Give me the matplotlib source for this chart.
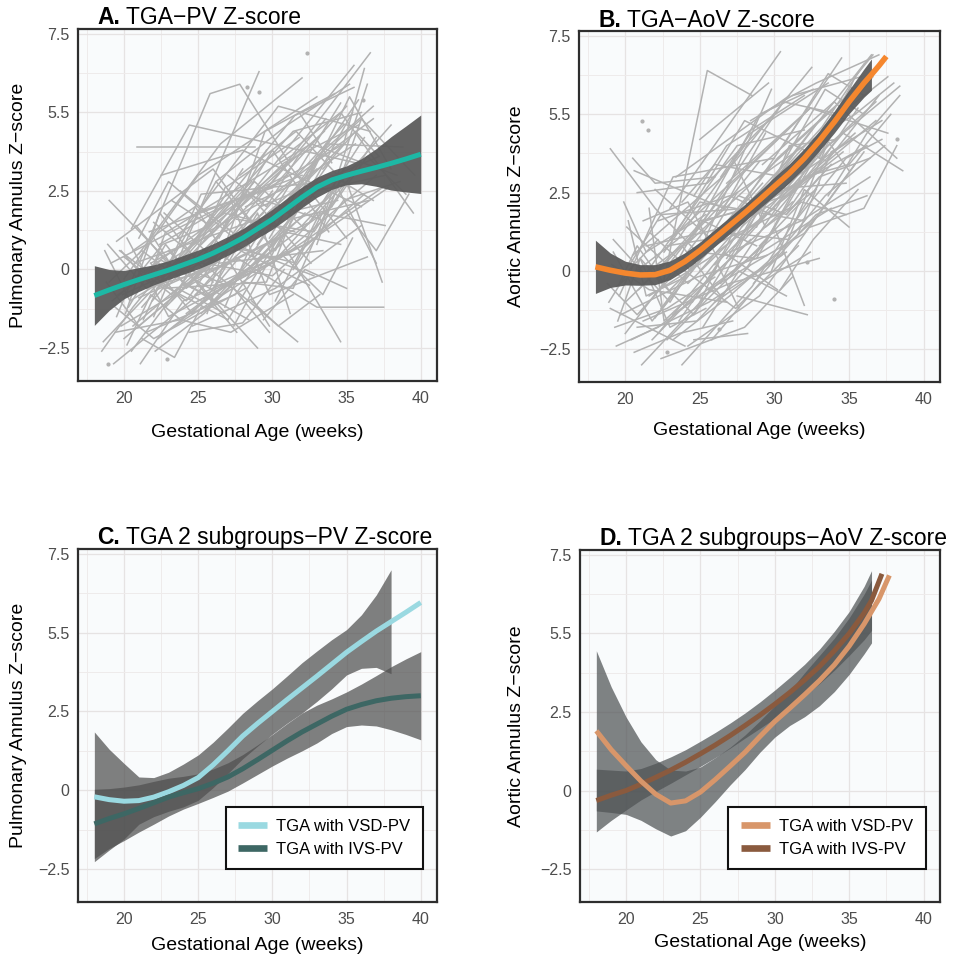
import numpy as np
import matplotlib.pyplot as plt

plt.rcParams['font.family'] = ['Liberation Sans', 'DejaVu Sans']

# ---- individual fetal trajectories: pulmonary valve (PV) ----
pv_tracks_ga = [
    [19.3, 24.5, 29.0], [18.6, 22.0, 27.0], [19.5, 25.8, 27.8, 31.0], [20.9, 28.8],
    [22.0, 29.1], [21.0, 26.5, 32.0], [23.0, 30.0, 36.6], [20.5, 27.0, 35.5],
    [24.0, 30.5, 34.6], [27.5, 33.0, 37.5], [22.0, 31.7], [23.0, 29.0],
    [21.1, 24.0, 30.0], [30.5, 34.6, 39.5], [19.0, 23.5, 28.0], [20.0, 25.0, 33.0],
    [22.5, 28.0, 36.0], [24.5, 31.5, 35.5], [19.8, 25.5, 30.0], [21.5, 27.5, 34.0],
    [20.2, 23.0, 31.0], [19.6, 26.0, 33.5], [21.8, 29.5, 36.8], [22.8, 27.0, 32.5],
    [20.6, 24.8, 29.8], [23.5, 28.5, 34.8], [19.2, 22.5, 26.5], [24.8, 30.0, 35.0],
    [25.5, 31.0, 37.0], [20.4, 26.8, 31.5], [21.3, 25.2, 33.8], [18.9, 21.5, 27.2],
    [22.2, 30.8, 35.8], [23.8, 27.8, 33.0], [26.0, 32.5, 36.2], [20.0, 28.0],
    [21.7, 32.0], [24.2, 34.0], [19.4, 23.8, 30.6], [22.6, 26.2, 30.2, 35.4],
    [27.0, 31.2, 36.5], [28.5, 33.5, 38.0], [20.8, 24.0, 28.4], [23.2, 29.2, 37.2],
    [25.8, 29.5, 34.2], [19.9, 27.4, 32.8], [21.2, 26.0, 31.0, 35.0], [22.4, 28.2, 33.2],
    [24.6, 30.2, 36.0], [26.5, 32.2, 37.8], [20.3, 22.8, 27.6], [18.8, 21.0, 25.0],
    [23.6, 26.8, 31.8], [29.0, 33.0, 36.8], [21.6, 25.6, 29.6], [20.7, 29.0, 34.4],
    [25.2, 28.8, 32.2], [22.9, 32.6, 38.4], [27.8, 31.6, 35.2], [19.7, 24.2, 28.6, 33.6],
    [19.1, 24.0, 31.0], [20.1, 22.4, 26.0], [21.4, 27.0], [19.5, 26.0, 28.6],
    [22.1, 25.4, 30.4], [20.5, 24.4, 35.6], [23.4, 30.6, 37.4], [24.4, 28.0, 30.8],
    [26.4, 30.0, 33.8], [28.0, 31.4, 34.2], [30.0, 35.0, 37.4], [25.0, 33.0, 36.4],
    [18.7, 20.4, 25.6], [21.0, 23.0, 27.4], [22.7, 26.4, 33.4], [27.2, 29.8, 36.4],
    [29.4, 32.2, 35.0], [31.0, 33.6, 38.8], [32.4, 35.2, 38.0], [33.0, 36.0, 39.6],
    [20.2, 21.8, 23.8], [21.9, 28.8, 32.4], [26.8, 28.4, 34.6], [25.4, 30.0, 36.2],
    [23.0, 31.4, 36.0], [19.0, 21.2, 24.6], [20.0, 23.2, 29.4], [21.0, 26.2, 34.8],
    [22.3, 27.6, 35.8], [23.6, 30.4, 36.6], [24.8, 32.0, 37.6], [26.2, 31.0, 35.2],
    [27.6, 32.8, 37.0], [28.8, 34.0, 36.8], [30.2, 33.2, 37.6], [31.4, 34.8, 38.6],
    [19.4, 22.0, 28.2], [20.6, 23.6, 26.8], [21.8, 24.6, 27.8], [22.6, 29.6, 33.0],
    [23.8, 27.2, 31.4], [25.0, 28.4, 32.6], [26.0, 29.0, 31.2], [27.4, 30.8, 34.6],
    [28.2, 31.8, 35.6], [29.8, 32.8, 36.0], [30.8, 33.4, 35.4], [32.0, 34.4, 37.0],
    [18.5, 20.6, 23.4], [19.8, 21.6, 22.8], [20.9, 22.6, 25.8], [22.0, 24.2, 26.6],
    [24.0, 26.0, 29.2], [25.6, 27.0, 30.6], [26.6, 31.6, 33.6], [33.4, 35.6, 37.2],
    [34.0, 36.4, 39.0], [29.0, 34.8, 36.2], [31.8, 34.0], [21.2, 23.4, 25.2],
    [23.2, 25.8, 28.6], [27.0, 29.6, 32.0], [28.6, 30.4, 33.2], [24.4, 27.4, 29.8],
    [35.0, 37.0, 39.2],
]
pv_tracks_z = [
    [-3.0, -1.0, 1.5], [-2.3, -0.6, 2.0], [-1.5, 5.6, 5.9, 3.5], [3.9, 3.9],
    [-1.5, 6.3], [0.5, 4.0, 6.1], [-0.5, 2.8, 6.9], [-2.6, 1.5, 6.5],
    [-0.5, 1.0, -2.3], [0.4, -1.2, -1.2], [1.5, -2.3], [0.6, -2.5],
    [-3.0, -1.0, 0.2], [3.5, 5.0, 1.8], [2.2, 0.0, 3.2], [-0.3, 3.0, 5.5],
    [3.0, 3.8, 2.0], [0.8, 4.9, 5.8], [-1.8, -0.2, 2.5], [-2.0, -0.8, 3.5],
    [1.0, -1.5, 0.5], [-0.8, 1.2, 4.4], [0.2, 2.2, 4.8], [-1.2, 0.8, -0.5],
    [0.6, 2.0, -1.8], [-0.2, 1.0, 4.0], [-1.0, 0.3, -0.8], [1.8, 2.6, 5.2],
    [-0.8, 0.6, 3.0], [-0.4, 1.8, 1.2], [-1.6, 2.4, 2.8], [0.8, -0.6, 0.2],
    [-0.6, 3.4, 4.6], [2.5, 1.0, 3.2], [0.0, 1.5, 4.2], [-2.2, 1.0],
    [1.2, 3.0], [-1.4, 2.0], [-2.0, -1.6, 0.8], [-0.2, 2.8, 0.6, 5.0],
    [-1.6, 1.6, 2.2], [0.4, 2.2, 4.6], [1.4, -0.4, -1.6], [-1.0, 2.0, 3.6],
    [-0.6, 4.4, 5.6], [-0.8, 0.8, -0.2], [-1.2, 1.4, 3.4, 1.0], [0.8, 2.4, 1.6],
    [-1.8, -0.6, 1.4], [-0.4, 0.8, 2.6], [-1.2, 0.8, -2.0], [-0.4, -1.8, -0.2],
    [-0.8, 2.6, 4.2], [0.8, 3.6, 5.2], [-0.6, 0.4, 3.8], [0.2, 1.6, 2.2],
    [-1.4, 0.2, 1.8], [1.2, 4.0, 3.0], [3.0, 4.4, 2.6], [0.6, -1.0, 2.0, 4.8],
    [0.2, 1.4, 3.0], [-1.4, 1.8, -0.4], [-0.2, -1.6], [0.9, 3.2, 1.5],
    [-2.6, -1.4, 1.0], [1.3, 4.6, 3.4], [-1.8, 0.4, 2.6], [-2.0, -1.7, 0.0],
    [1.0, 3.8, 1.2], [-0.4, -0.6, 2.4], [0.2, 2.8, -0.4], [-1.0, 1.0, 5.9],
    [0.6, -1.0, 0.5], [1.0, 2.8, 1.0], [1.8, 0.2, 0.6], [2.2, -0.8, 0.4],
    [-1.6, 0.0, -0.6], [1.6, 4.0, 3.9], [2.8, 5.5, 3.2], [0.8, 4.8, 3.0],
    [-2.4, -0.8, -1.6], [-1.0, 2.8, 1.2], [-1.2, 0.6, 5.3], [0.2, -0.2, 2.4],
    [0.0, 4.4, 5.0], [-0.4, 0.6, -0.6], [0.4, -0.8, 1.8], [-0.9, 0.2, 4.6],
    [-2.2, -0.2, 5.4], [1.0, 5.2, 4.4], [-0.8, 2.4, 3.0], [2.8, 4.6, 5.9],
    [1.6, 1.2, 4.2], [0.4, 3.0, 2.2], [-1.0, 1.8, 1.4], [0.0, 2.2, 2.8],
    [-1.2, -2.2, -0.6], [-1.8, -0.6, -1.4], [0.2, -1.4, 0.4], [-0.6, -0.4, 3.6],
    [-1.6, -2.0, -0.8], [1.2, 2.4, 0.2], [-0.6, 1.8, -1.4], [-1.8, 1.2, 0.8],
    [2.0, 2.8, 4.0], [1.0, 3.4, 4.8], [0.4, -0.8, 1.0], [1.4, 2.6, 0.2],
    [-2.6, -1.2, 0.4], [0.6, -0.4, 1.2], [-0.2, 0.8, 1.4], [1.0, -0.6, 0.6],
    [-0.4, -1.0, 0.6], [-1.4, 0.6, 2.2], [0.8, 0.2, 2.0], [3.2, 4.4, 3.6],
    [2.0, 3.6, 2.4], [2.4, 4.0, 6.4], [5.0, 3.4], [-2.2, -2.8, -1.2],
    [2.2, 1.4, 2.8], [3.0, 2.0, 3.8], [-1.0, -1.8, -0.8], [0.0, -0.6, -2.0],
    [1.8, 0.6, 2.4],
]
pv_single_ga = [22.9, 18.9, 32.3, 28.3, 29.1, 36.1]
pv_single_z = [-2.85, -3.0, 6.9, 5.8, 5.66, 5.4]

# ---- individual fetal trajectories: aortic valve (AoV) ----
aov_tracks_ga = [
    [19.0, 22.0, 25.0], [22.5, 25.5, 28.5], [23.0, 30.4], [19.4, 23.5, 28.0],
    [21.1, 26.0, 31.0], [23.8, 28.5, 33.0], [20.0, 24.0, 29.0], [20.5, 26.5, 32.5],
    [22.0, 27.0, 34.5], [24.5, 30.0, 36.5], [19.2, 23.0, 27.5], [21.5, 27.5, 32.0],
    [22.8, 29.5, 35.0], [25.0, 31.5, 37.0], [20.8, 25.5, 30.0], [23.4, 28.0, 33.5],
    [19.7, 24.8, 29.5], [21.8, 26.2, 31.2], [24.2, 29.0, 35.4], [26.0, 30.5, 34.0],
    [27.5, 32.2], [28.0, 33.6, 38.4], [20.3, 22.4, 28.2], [22.6, 25.0, 32.0],
    [19.1, 21.6, 26.8], [21.2, 27.0, 33.0], [23.0, 28.6, 36.2], [25.4, 30.8, 36.8],
    [26.8, 32.4, 37.6], [29.2, 34.0, 38.2], [20.6, 23.6, 27.2], [22.2, 26.6, 30.2],
    [24.0, 27.4, 31.6], [19.6, 23.2, 30.0], [21.7, 24.4, 29.8], [23.6, 29.0, 32.6],
    [25.8, 31.0, 35.6], [27.0, 31.8, 36.4], [28.4, 33.0, 37.0], [30.0, 34.6, 38.6],
    [19.3, 22.8, 26.0], [20.9, 25.2, 28.8], [22.4, 28.0, 31.2], [24.6, 28.2],
    [26.4, 29.6, 34.8], [21.4, 26.8, 31.4], [23.2, 27.8, 33.8], [25.6, 32.0, 36.0],
    [20.1, 24.2, 27.6], [22.0, 25.8, 29.2], [27.8, 31.4, 35.2], [29.6, 33.4, 37.4],
    [31.0, 34.2, 36.6], [18.8, 20.8, 24.6], [19.9, 21.4, 25.4], [21.0, 23.8, 26.4],
    [23.8, 26.0, 30.6], [24.8, 28.8, 33.2], [26.2, 30.2, 35.8], [28.6, 32.8, 36.2],
    [20.4, 25.6, 30.8], [22.9, 27.2, 32.4], [24.4, 30.6, 34.4], [27.2, 29.4, 32.8],
    [30.4, 32.6, 35.6], [32.0, 35.0, 37.8], [19.0, 24.0], [21.6, 22.6, 28.4],
    [25.2, 27.6, 30.8], [29.0, 31.8, 34.8], [33.0, 35.4, 36.6], [20.6, 26.6, 29.4],
    [23.4, 31.0], [26.6, 33.2, 35.0], [31.6, 33.8, 37.2], [22.2, 27.0, 29.8],
    [28.0, 30.0, 32.0], [25.0, 29.6], [30.6, 33.6, 36.0], [19.5, 21.0, 22.5],
    [19.2, 21.8, 25.8], [20.0, 22.6, 26.6], [20.8, 24.8, 28.4], [21.6, 25.6, 30.0],
    [22.4, 26.4, 31.8], [23.2, 27.0, 32.6], [24.0, 29.4, 34.0], [25.0, 28.6, 33.0],
    [26.0, 31.2, 35.4], [27.0, 30.4, 34.6], [28.2, 32.2, 36.8], [29.4, 33.2, 36.0],
    [30.6, 34.4, 37.6], [31.4, 34.8, 37.2], [32.6, 35.4, 38.0], [33.6, 36.2, 38.4],
    [19.6, 20.8, 23.2], [20.2, 21.4, 24.0], [21.0, 23.0, 25.4], [22.0, 24.6, 27.8],
    [22.8, 25.4, 29.0], [23.6, 26.2, 27.6], [24.8, 27.2, 31.0], [25.8, 29.0, 32.4],
    [26.8, 28.8, 31.6], [27.6, 30.8, 33.8], [28.8, 31.0, 34.2], [29.8, 32.0, 35.0],
    [30.8, 33.0, 36.4], [18.9, 20.2, 22.2], [19.4, 22.2, 24.4], [21.2, 24.2, 26.2],
    [23.0, 24.8, 30.2], [24.6, 26.8, 32.0], [26.4, 28.4, 33.6], [28.4, 31.2, 35.8],
    [31.2, 32.8, 37.0], [27.4, 33.4, 36.0], [32.4, 36.0, 38.2], [20.5, 22.0, 26.0],
]
aov_tracks_z = [
    [3.9, 2.0, 0.5], [-0.5, 6.4, 5.6], [2.0, 7.0], [-0.5, 1.0, 4.0],
    [-3.0, -0.5, 1.5], [-3.0, -0.5, 2.8], [-2.0, 0.5, 3.5], [0.5, 3.0, 6.5],
    [-1.5, 1.5, 6.8], [-1.0, 3.0, 6.9], [1.0, -1.0, 2.5], [0.0, 4.0, 4.5],
    [-2.2, 1.0, 5.8], [0.0, 3.5, 6.6], [2.5, 2.8, 5.0], [1.2, 4.8, 3.5],
    [-1.4, -0.2, 0.5], [-2.2, 0.0, 2.2], [-2.4, -0.8, 3.4], [-1.0, 0.5, 4.6],
    [-0.8, -1.4], [1.0, 4.0, 5.9], [0.2, 1.8, 2.0], [0.6, 2.2, 1.6],
    [0.2, -0.6, -1.0], [-1.6, -0.4, 0.4], [-0.6, 2.0, 4.0], [1.6, 2.4, 4.8],
    [2.8, 5.2, 4.4], [3.4, 5.4, 3.6], [-2.6, -2.0, -1.6], [-2.0, 0.6, -0.6],
    [0.0, -1.2, 0.8], [-0.8, 3.0, 3.6], [1.2, 0.0, 5.8], [0.4, 5.0, 5.8],
    [0.8, 2.0, 5.2], [0.6, 1.6, 3.0], [2.0, 3.2, 5.6], [1.8, 4.4, 3.2],
    [-1.8, -1.2, -0.2], [-0.6, 1.6, 0.8], [-2.8, -1.8, -0.2], [-2.2, -2.0],
    [-0.4, 2.6, 2.8], [0.8, 1.4, 3.8], [-1.4, 0.2, 2.0], [-0.6, 1.2, 3.8],
    [1.4, -0.4, 1.2], [2.6, 1.0, 2.8], [1.4, 3.0, 4.2], [0.2, 2.4, 4.0],
    [2.4, 4.8, 6.2], [-0.4, -1.4, 0.6], [2.2, 0.6, 1.8], [-0.2, 0.8, -0.8],
    [2.2, 3.4, 3.0], [0.6, 0.4, 4.0], [1.2, 3.6, 6.0], [-0.4, 1.8, 2.4],
    [-2.2, -1.0, 0.6], [0.2, 2.8, 5.2], [1.0, 5.4, 5.0], [3.6, 1.4, 2.6],
    [-0.6, 1.0, 2.6], [3.0, 3.4, 5.0], [-1.2, -2.4], [2.0, -1.6, 1.0],
    [-1.8, 0.0, -0.8], [0.8, 2.2, 1.8], [3.6, 6.2, 6.9], [3.2, 2.0, 4.4],
    [3.0, 5.6], [2.2, 4.4, 3.2], [1.2, 3.8, 4.8], [1.6, 2.4, 1.8],
    [0.0, 1.4, -1.1], [4.2, 6.0], [4.0, 6.3, 5.6], [-1.6, 0.4, -0.4],
    [0.6, -1.6, 0.8], [-1.0, 0.2, 2.2], [-1.8, -1.6, 0.2], [-0.8, 0.4, 2.0],
    [-1.2, 1.4, 3.4], [-2.2, -0.8, 1.6], [0.8, 3.2, 5.2], [1.6, 2.0, 4.8],
    [0.2, 2.6, 4.4], [-0.2, 2.2, 3.8], [1.2, 3.4, 5.4], [2.6, 4.6, 6.6],
    [3.0, 5.0, 6.2], [1.6, 3.6, 4.2], [4.2, 5.0, 6.0], [2.4, 4.4, 5.6],
    [-0.4, 0.8, -0.8], [1.6, -0.8, -0.2], [0.4, -1.8, -1.2], [-0.2, -1.4, 1.0],
    [0.8, 1.0, 2.4], [-1.6, 0.2, -1.2], [-1.2, 1.2, 1.0], [-2.2, -0.4, 0.6],
    [0.4, 1.8, 2.8], [2.4, 1.8, 3.4], [1.4, 4.0, 4.2], [0.0, 2.6, 1.4],
    [1.8, 3.0, 3.6], [-1.0, 0.0, 1.0], [-2.4, -1.8, -1.0], [1.6, 2.2, 0.4],
    [1.0, 1.8, 4.2], [2.4, 4.0, 5.6], [3.0, 4.4, 6.0], [4.8, 5.6, 6.2],
    [5.6, 6.0, 6.9], [0.8, 5.8, 5.0], [1.4, 2.0, 4.0], [3.6, 2.8, 3.0],
]
aov_single_ga = [21.1, 21.5, 34.0, 38.2, 22.8, 26.3, 32.2]
aov_single_z = [4.8, 4.5, -0.9, 4.2, -2.6, -1.85, 0.3]

# ---- loess fits, all TGA ----
pv_fit_ga = list(range(18, 41))
pv_fit = [-0.83, -0.65, -0.48, -0.32, -0.17, -0.02, 0.15, 0.32, 0.52, 0.75, 1.0, 1.3,
          1.6, 1.95, 2.3, 2.62, 2.85, 3.0, 3.13, 3.25, 3.38, 3.52, 3.67]
pv_half = [0.95, 0.65, 0.45, 0.38, 0.32, 0.3, 0.3, 0.3, 0.3, 0.3, 0.3, 0.3,
           0.32, 0.33, 0.33, 0.32, 0.3, 0.3, 0.4, 0.6, 0.85, 1.05, 1.25]

aov_fit_ga = list(range(18, 37)) + [36.5, 37, 37.5]
aov_fit = [0.13, 0.02, -0.07, -0.13, -0.12, 0.02, 0.3, 0.65, 1.05, 1.45, 1.85, 2.27,
           2.7, 3.12, 3.6, 4.15, 4.75, 5.4, 6.0, 6.27, 6.55, 6.85]
aov_half = [0.85, 0.55, 0.38, 0.33, 0.32, 0.3, 0.28, 0.27, 0.27, 0.27, 0.27, 0.28,
            0.3, 0.3, 0.31, 0.32, 0.35, 0.38, 0.45, 0.5]

# ---- loess fits, two subgroups ----
sub_pv_ga = list(range(18, 41))
pv_vsd_fit = [-0.21, -0.3, -0.35, -0.33, -0.22, -0.05, 0.15, 0.4, 0.8, 1.25, 1.72, 2.12,
              2.5, 2.88, 3.25, 3.62, 4.0, 4.38, 4.72, 5.05, 5.35, 5.65, 5.96]
pv_vsd_half = [2.06, 1.6, 1.2, 0.75, 0.62, 0.62, 0.68, 0.72, 0.72, 0.72, 0.72, 0.72,
               0.72, 0.75, 0.8, 0.8, 0.78, 0.72, 0.85, 1.15, 1.65]
pv_ivs_fit = [-1.07, -0.9, -0.75, -0.58, -0.4, -0.22, -0.08, 0.05, 0.22, 0.42, 0.68, 0.97,
              1.27, 1.57, 1.85, 2.1, 2.35, 2.57, 2.72, 2.84, 2.92, 2.97, 3.0]
pv_ivs_half = [1.1, 0.95, 0.85, 0.75, 0.68, 0.6, 0.52, 0.47, 0.45, 0.45, 0.45, 0.47,
               0.5, 0.55, 0.6, 0.6, 0.55, 0.55, 0.65, 0.8, 1.0, 1.2, 1.4]

aov_vsd_ga = list(range(18, 37)) + [36.5, 37, 37.7]
aov_vsd_fit = [1.9, 1.3, 0.79, 0.3, -0.12, -0.4, -0.33, -0.05, 0.35, 0.78, 1.22, 1.72,
               2.2, 2.62, 3.05, 3.5, 4.0, 4.6, 5.3, 5.7, 6.1, 6.85]
aov_vsd_half = [2.55, 2.0, 1.55, 1.25, 1.1, 1.05, 0.95, 0.8, 0.7, 0.6, 0.55, 0.5,
                0.5, 0.55, 0.7, 0.8, 0.85, 0.9, 0.95, 1.0]
aov_ivs_ga = list(range(18, 37)) + [36.5, 37.2]
aov_ivs_fit = [-0.32, -0.15, 0.0, 0.2, 0.42, 0.65, 0.9, 1.17, 1.45, 1.75, 2.07, 2.4,
               2.75, 3.12, 3.52, 3.95, 4.45, 5.0, 5.65, 6.05, 6.9]
aov_ivs_half = [1.0, 0.8, 0.62, 0.5, 0.45, 0.42, 0.4, 0.4, 0.4, 0.4, 0.4, 0.42,
                0.45, 0.48, 0.5, 0.55, 0.62, 0.7, 0.85, 0.95]

x_ticks = [20, 25, 30, 35, 40]
y_ticks = [-2.5, 0, 2.5, 5, 7.5]
y_tick_labels = ['\u22122.5', '0', '2.5', '5.5', '7.5']
group_labels = ['TGA with VSD-PV', 'TGA with IVS-PV']


def draw_band(ax, ga, fit, half, color, alpha):
    n = len(half)
    x = np.array(ga[:n], dtype=float)
    mid = np.array(fit[:n])
    h = np.array(half)
    ax.fill_between(x, mid - h, mid + h, color=color, alpha=alpha, lw=0, zorder=3)


def style_panel(ax, letter, title, ylabel, ylab_x, xlab_y):
    ax.set_facecolor('#f9fbfc')
    ax.set_xlim(16.9, 41.1)
    ax.set_ylim(-3.55, 7.66)
    ax.set_xticks(x_ticks)
    ax.set_xticks([17.5, 22.5, 27.5, 32.5, 37.5], minor=True)
    ax.set_yticks(y_ticks)
    ax.set_yticks([-1.25, 1.25, 3.75, 6.25], minor=True)
    ax.set_xticklabels([str(t) for t in x_ticks])
    ax.set_yticklabels(y_tick_labels)
    ax.tick_params(which='both', length=0, labelsize=11.5, labelcolor='#4d4d4d')
    ax.tick_params(axis='x', pad=7)
    ax.tick_params(axis='y', pad=6)
    ax.grid(which='major', color='#e6e3e3', lw=0.9, zorder=0)
    ax.grid(which='minor', color='#eeebeb', lw=0.7, zorder=0)
    ax.set_axisbelow(True)
    for sp in ax.spines.values():
        sp.set_color('#2e2e2e')
        sp.set_linewidth(1.6)
    head = ax.text(0.053, 1.013, letter, transform=ax.transAxes, fontsize=16.5,
                   fontweight='bold', ha='left', va='baseline')
    ax.annotate(' ' + title, xy=(1, 0), xycoords=head, fontsize=16.5,
                ha='left', va='bottom')
    ax.text(ylab_x, 0.5, ylabel, transform=ax.transAxes, rotation=90,
            fontsize=14, ha='center', va='center')
    ax.text(0.5, xlab_y, 'Gestational Age (weeks)', transform=ax.transAxes,
            fontsize=14, ha='center', va='center')


def add_legend(ax, colors):
    handles = [plt.Line2D([], [], color=c, lw=4.8, solid_capstyle='butt') for c in colors]
    leg = ax.legend(handles, group_labels, loc='lower right', bbox_to_anchor=(0.961, 0.093),
                    borderaxespad=0, fontsize=12, handlelength=1.75, handletextpad=0.55,
                    labelspacing=0.45, borderpad=0.75, fancybox=False, framealpha=1)
    leg.get_frame().set_edgecolor('#111111')
    leg.get_frame().set_linewidth(1.5)
    leg.set_zorder(10)


fig = plt.figure(figsize=(9.61, 9.65), dpi=100)
ax_a = fig.add_axes([0.0812, 0.6052, 0.3736, 0.3648])
ax_b = fig.add_axes([0.6025, 0.6041, 0.3757, 0.3637])
ax_c = fig.add_axes([0.0812, 0.0653, 0.3736, 0.3658])
ax_d = fig.add_axes([0.6035, 0.0653, 0.3746, 0.3648])

track_col = '#b2b2b2'

# A: PV z-score, all fetuses
for g, z in zip(pv_tracks_ga, pv_tracks_z):
    ax_a.plot(g, z, color=track_col, lw=1.1, zorder=2)
ax_a.plot(pv_single_ga, pv_single_z, 'o', color=track_col, ms=2, zorder=2)
draw_band(ax_a, pv_fit_ga, pv_fit, pv_half, '#5c5c5c', 0.95)
ax_a.plot(pv_fit_ga, pv_fit, color='#1db8a5', lw=3.6, zorder=4, solid_capstyle='butt')
style_panel(ax_a, 'A.', 'TGA\u2212PV Z-score', 'Pulmonary Annulus Z\u2212score', -0.167, -0.145)

# B: AoV z-score, all fetuses
for g, z in zip(aov_tracks_ga, aov_tracks_z):
    ax_b.plot(g, z, color=track_col, lw=1.1, zorder=2)
ax_b.plot(aov_single_ga, aov_single_z, 'o', color=track_col, ms=2, zorder=2)
draw_band(ax_b, aov_fit_ga, aov_fit, aov_half, '#5c5c5c', 0.95)
ax_b.plot(aov_fit_ga, aov_fit, color='#f5872e', lw=4.0, zorder=4, solid_capstyle='butt')
style_panel(ax_b, 'B.', 'TGA\u2212AoV Z-score', 'Aortic Annulus Z\u2212score', -0.172, -0.137)

# C: PV z-score by subgroup
draw_band(ax_c, sub_pv_ga, pv_vsd_fit, pv_vsd_half, '#4f4f4f', 0.72)
draw_band(ax_c, sub_pv_ga, pv_ivs_fit, pv_ivs_half, '#4f4f4f', 0.72)
ax_c.plot(sub_pv_ga, pv_vsd_fit, color='#9ad9e1', lw=3.6, zorder=4, solid_capstyle='butt')
ax_c.plot(sub_pv_ga, pv_ivs_fit, color='#3d6764', lw=3.6, zorder=4, solid_capstyle='butt')
style_panel(ax_c, 'C.', 'TGA 2 subgroups\u2212PV Z-score', 'Pulmonary Annulus Z\u2212score',
            -0.167, -0.122)
add_legend(ax_c, ['#9ad9e1', '#3d6764'])

# D: AoV z-score by subgroup
draw_band(ax_d, aov_vsd_ga, aov_vsd_fit, aov_vsd_half, '#4f5355', 0.72)
draw_band(ax_d, aov_ivs_ga, aov_ivs_fit, aov_ivs_half, '#4f5355', 0.72)
ax_d.plot(aov_ivs_ga, aov_ivs_fit, color='#8a5a3e', lw=3.6, zorder=4, solid_capstyle='butt')
ax_d.plot(aov_vsd_ga, aov_vsd_fit, color='#d8966a', lw=3.6, zorder=4, solid_capstyle='butt')
style_panel(ax_d, 'D.', 'TGA 2 subgroups\u2212AoV Z-score', 'Aortic Annulus Z\u2212score',
            -0.175, -0.116)
add_legend(ax_d, ['#d8966a', '#8a5a3e'])

fig.savefig('out.png', dpi=100, facecolor='white')
